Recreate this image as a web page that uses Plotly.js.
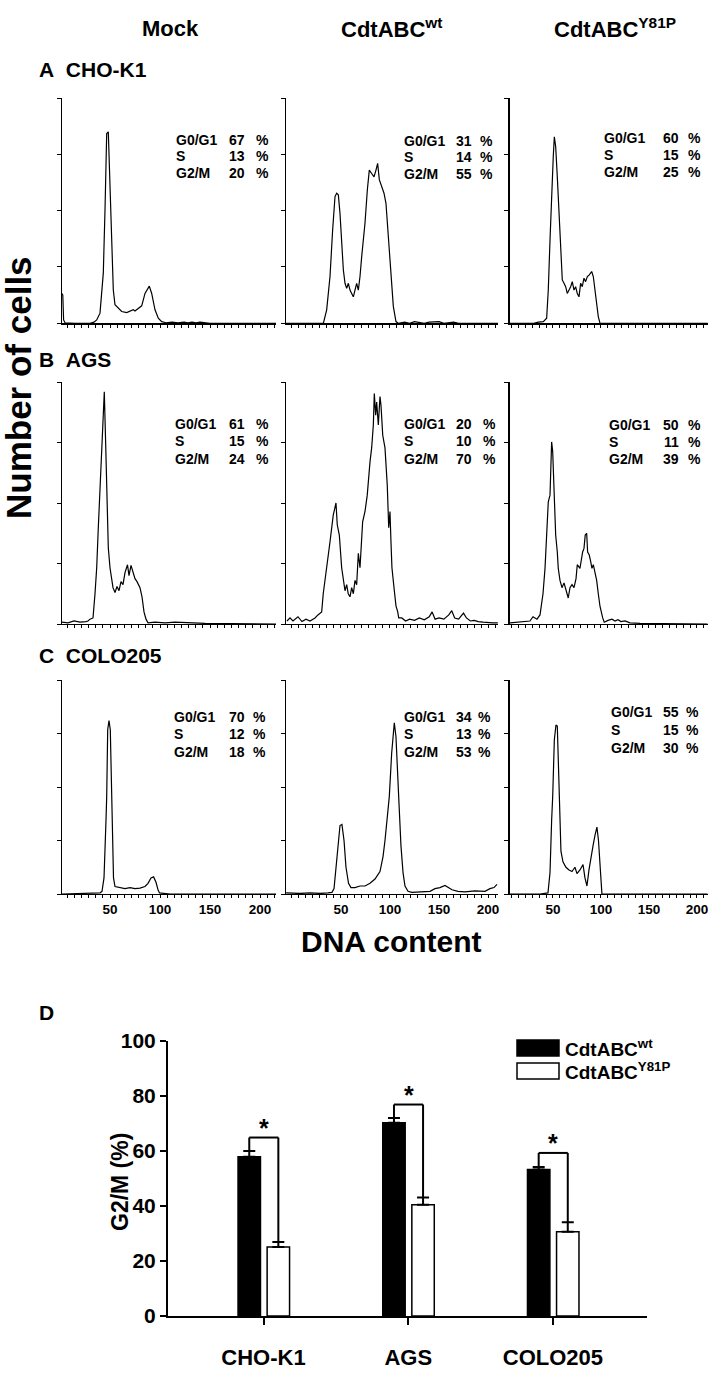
<!DOCTYPE html>
<html>
<head>
<meta charset="utf-8">
<script src="https://cdn.plot.ly/plotly-3.0.1.min.js"></script>
<style>html,body{margin:0;padding:0;background:#fff;}#chart{width:720px;height:1391px;}</style>
</head>
<body>
<div id="chart"></div>
<script>
// ---------- DATA ----------
const columnTitles = ["Mock", "CdtABC<sup>wt</sup>", "CdtABC<sup>Y81P</sup>"];
const rowTitles = ["A\u00a0\u00a0CHO-K1", "B\u00a0\u00a0AGS", "C\u00a0\u00a0COLO205"];
const phaseNames = ["G0/G1", "S", "G2/M"];
const pctG0G1 = [[67, 31, 60], [61, 20, 50], [70, 34, 55]];
const pctS    = [[13, 14, 15], [15, 10, 11], [12, 13, 15]];
const pctG2M  = [[20, 55, 25], [24, 70, 39], [18, 53, 30]];
const histTicks = [50, 100, 150, 200];

// A: CHO-K1
const a1x = [2,2.8,3.6,5,15,30,34,36.7,40,43.3,45,46.7,48.3,50,51.7,53.3,55,58.3,61.7,66.7,73.3,75,78.3,81.7,85,89.3,91.7,95,98.3,101.7,106,112,118,124,128,132,136,140,150,216];
const a1y = [0.53,0.5,0.06,0.01,0,0,0.02,0.06,0.18,0.89,2.01,3.37,3.40,2.37,1.18,0.59,0.33,0.27,0.21,0.19,0.24,0.22,0.27,0.31,0.53,0.66,0.53,0.24,0.09,0.03,0.01,0.02,0.01,0.02,0.01,0.02,0.01,0.02,0,0];
const a2x = [-6,10,25,32,35.4,38.8,41.5,43.9,45.6,47.3,49,50.7,52.4,54.1,55.8,57.5,59.2,60.9,62.6,64.3,66,67.7,69.4,71.1,74.5,76.9,78.9,81.3,83.7,85.7,87.4,89.1,91.5,93.9,95.9,98.3,100.7,103.4,106.1,108.5,115,120,125,135,140,150,155,165,170,180,210];
const a2y = [0,0,0,0,0.24,0.83,1.66,2.25,2.31,2.28,1.95,1.42,0.95,0.71,0.62,0.71,0.59,0.53,0.47,0.59,0.71,0.59,0.83,1.18,1.78,2.37,2.72,2.66,2.60,2.72,2.84,2.55,2.43,2.31,2.13,1.48,0.83,0.30,0.03,0,0.02,0,0.03,0,0.02,0.03,0,0.02,0,0,0];
const a3x = [4.7,30,34.7,39.9,43.4,45.1,46.9,48.6,50.3,51.4,52.8,54.5,56.3,58,59.7,61.5,63.2,64.9,66.7,68.4,70.1,71.9,73.6,75.3,77.1,78.8,80.5,82.3,84,85.8,87.8,90.3,92,93.8,95.5,97.2,99,211];
const a3y = [0,0,0.02,0.03,0.09,0.59,1.48,2.37,2.96,3.31,3.14,2.60,1.89,1.18,0.77,0.71,0.65,0.53,0.59,0.65,0.74,0.59,0.65,0.53,0.47,0.71,0.65,0.80,0.74,0.83,0.86,0.92,0.83,0.59,0.36,0.12,0,0];

// B: AGS
const b1x = [2,8,14,20,26,28,30,33,35,36.7,38.3,40,41.7,43.3,44.3,45.7,46.7,48.3,50,51.7,53,55,57,59,61,63,65,67.5,69,71,73,75,77,80,82,84,86,88,95,105,115,125,135,145,216];
const b1y = [0.03,0.02,0.05,0.03,0.04,0.05,0.08,0.1,0.5,0.93,1.59,2.30,2.96,3.51,3.84,2.96,2.13,1.26,0.93,0.75,0.6,0.52,0.62,0.55,0.7,0.65,0.85,0.98,0.8,0.97,0.85,0.75,0.7,0.6,0.45,0.2,0.08,0.02,0.03,0.02,0.03,0.02,0.02,0.01,0];
const b2x = [-5.1,-2,1,6.1,10.2,14.3,18.4,23.5,26.5,30.3,31.9,33.7,36,38.8,42.1,44.9,46.2,48.3,50.7,52.3,54.1,55.8,57.4,59.2,60.9,62.6,64.3,66,67.7,69.4,72.1,74.5,76.8,79.6,81.3,83,84,85.4,86.4,88.1,89.8,90.8,92.6,94.9,95.9,97.2,98.7,100,101,102,104.1,106.1,107.9,108.9,112,116,120,125,130,135,140,143,146,150,155,160,163,166,170,175,178,182,186,190,195,200,205,210];
const b2y = [0.05,0.1,0.05,0.12,0.04,0.08,0.05,0.1,0.15,0.2,0.5,0.75,1.0,1.36,1.80,2.0,1.64,1.47,0.93,0.7,0.55,0.65,0.5,0.45,0.6,0.5,0.72,0.65,1.17,0.93,1.69,1.86,2.13,2.68,2.91,3.29,3.81,3.45,3.67,3.29,3.76,3.62,3.12,2.91,2.68,2.30,1.59,1.86,1.36,0.93,0.6,0.3,0.2,0.1,0.1,0.05,0.08,0.06,0.1,0.07,0.12,0.2,0.08,0.1,0.08,0.15,0.22,0.1,0.08,0.18,0.1,0.05,0.06,0.04,0.03,0.02,0.02,0.02];
const b3x = [5.2,15.6,26,29.2,33.3,36.5,39.6,41.7,42.7,45.1,46.9,47.9,48.6,49.7,50.3,51.4,52.8,54.5,55.5,57.3,59.4,61.5,63.5,65.9,67.7,69.8,71.9,74,75.3,78.1,80.9,82.3,83.6,85.1,86.1,87.8,89.3,90.6,92,93.8,95.5,97.2,99,101.8,103.4,107.3,111.5,114.6,117.7,120.8,125,130.2,140.6,211];
const b3y = [0.02,0.03,0.05,0.12,0.08,0.15,0.5,0.92,1.25,2.02,2.13,2.57,3.01,2.85,2.57,2.02,1.47,1.19,0.92,0.72,0.6,0.68,0.55,0.43,0.6,0.65,0.6,0.75,0.98,0.92,1.19,1.25,1.47,1.50,1.19,1.14,1.03,0.92,0.98,0.87,0.72,0.5,0.29,0.1,0.03,0.06,0.08,0.05,0.07,0.04,0.05,0.02,0.01,0];

// C: COLO205
const c1x = [2,20,40,42,44,46,46.7,47.7,49,50.3,51.7,52.5,53.5,55,60,65,70,75,80,85,88,91,93.6,96,98,99.5,110,216];
const c1y = [0,0.01,0.02,0.05,0.3,1.38,1.82,3.07,3.24,3.07,2.0,1.0,0.3,0.14,0.12,0.1,0.12,0.1,0.11,0.14,0.2,0.3,0.32,0.22,0.08,0.02,0,0];
const c2x = [-6,8.2,18.4,28.6,36.7,40.8,42.9,44.9,46.9,49,51,53.1,55.1,57.7,60.2,64.3,69.4,74.5,79.6,84.7,89.8,92.9,94.9,96.6,99.3,101.7,103.4,104.4,106.1,107.4,109.5,111.2,113.3,115.3,118.4,122.4,130.6,140.8,145.9,151,156.1,159.2,163.3,169.4,176.5,186.7,196.9,202,206.1,209.2];
const c2y = [0.02,0.01,0.02,0.01,0.02,0.03,0.1,0.5,1.0,1.28,1.3,1.0,0.5,0.2,0.12,0.12,0.15,0.15,0.2,0.28,0.42,0.7,1.0,1.38,1.82,2.63,3.13,3.2,2.94,2.32,1.57,0.9,0.4,0.15,0.05,0.03,0.04,0.05,0.1,0.12,0.16,0.12,0.08,0.05,0.04,0.06,0.05,0.1,0.12,0.18];
const c3x = [4.7,20,36.5,44.8,46.9,48.6,49.7,51.4,53.1,54.5,55.5,56.8,58.3,60.4,63.5,66.7,69.8,72.9,75,78.1,81.3,83.3,85.4,87.5,89.6,91.7,93.8,95.8,97.4,99,100,101,120,211];
const c3y = [0,0,0,0.02,0.4,1.38,1.82,2.88,3.16,3.14,2.5,1.4,0.8,0.6,0.5,0.45,0.42,0.5,0.38,0.45,0.55,0.3,0.15,0.45,0.7,0.9,1.1,1.25,1.0,0.5,0.1,0,0,0];

// D: bar chart
const cellLines = ["CHO-K1", "AGS", "COLO205"];
const seriesNames = ["CdtABC<sup>wt</sup>", "CdtABC<sup>Y81P</sup>"];
const g2mWt = [57.9, 70.3, 53.3];
const g2mWtErr = [2.1, 1.7, 0.9];
const g2mY81P = [25.1, 40.5, 30.6];
const g2mY81PErr = [1.8, 2.6, 3.5];
const sigTop = [64.9, 76.9, 59.3];
const yTicksD = [0, 20, 40, 60, 80, 100];

// ---------- LAYOUT ----------
const W = 720, H = 1391;
const FONT = "Liberation Sans, Arial, Helvetica, sans-serif";
const px = v => v / W;
const py = v => 1 - v / H;
const colPx = [[62, 276], [286, 498], [509.5, 708]];
const rowPx = [[98, 323.3], [382, 624], [680, 894]];
const xRanges = [[2, 216], [-6.1, 210.2], [4.7, 211.5]];

const hx = [[a1x, a2x, a3x], [b1x, b2x, b3x], [c1x, c2x, c3x]];
const hy = [[a1y, a2y, a3y], [b1y, b2y, b3y], [c1y, c2y, c3y]];

const traces = [];
const layout = {
  width: W, height: H,
  margin: {l: 0, r: 0, t: 0, b: 0},
  paper_bgcolor: "#fff", plot_bgcolor: "rgba(0,0,0,0)",
  showlegend: false,
  font: {family: FONT, color: "#000"},
  annotations: [], shapes: []
};

let k = 0;
for (let r = 0; r < 3; r++) {
  for (let c = 0; c < 3; c++) {
    k++;
    const xa = "x" + (k === 1 ? "" : k), ya = "y" + (k === 1 ? "" : k);
    traces.push({
      x: hx[r][c], y: hy[r][c], xaxis: xa, yaxis: ya,
      type: "scatter", mode: "lines",
      line: {color: "#000", width: 1.2}, hoverinfo: "skip"
    });
    const xax = {
      domain: [px(colPx[c][0]), px(colPx[c][1])],
      anchor: ya, range: xRanges[c],
      showline: true, linecolor: "#000", linewidth: 1.2,
      ticks: "outside", ticklen: 3, tickwidth: 1, tickcolor: "#000",
      tickmode: "array", tickvals: histTicks,
      minor: {ticks: "outside", ticklen: 3, tickwidth: 1, tickcolor: "#000", tick0: 0, dtick: 50 / 7},
      showgrid: false, zeroline: false, fixedrange: true
    };
    if (r === 2) {
      xax.showticklabels = true;
      xax.tickfont = {family: FONT, size: 13.5, weight: "bold", color: "#000"};
    } else {
      xax.showticklabels = false;
    }
    layout["xaxis" + (k === 1 ? "" : k)] = xax;
    layout["yaxis" + (k === 1 ? "" : k)] = {
      domain: [py(rowPx[r][1]), py(rowPx[r][0])],
      anchor: xa, range: [0, 4],
      showline: true, linecolor: "#000", linewidth: 1.2,
      ticks: "outside", ticklen: 4, tickwidth: 1, tickcolor: "#000",
      dtick: 1, showticklabels: false,
      showgrid: false, zeroline: false, fixedrange: true
    };
  }
}

// per-panel phase text positions (pixels)
const labelX = [[175, 403, 603], [174, 403, 608], [173, 403, 610]];
const valueR = [[246, 473, 680], [246, 473, 680], [246, 473, 680]];
const pctX   = [[255, 479, 687], [255, 482, 687], [252, 477, 685]];
const lineY  = [[139.5, 140.5, 138.5], [423.5, 423.5, 424.5], [716.5, 716.5, 712.5]];
const lineGap = [16.7, 17.5, 17.5];
for (let r = 0; r < 3; r++) {
  for (let c = 0; c < 3; c++) {
    const vals = [pctG0G1[r][c], pctS[r][c], pctG2M[r][c]];
    for (let i = 0; i < 3; i++) {
      const yy = py(lineY[r][c] + i * lineGap[r]);
      const f = {family: FONT, size: 14, color: "#000"};
      layout.annotations.push({xref: "paper", yref: "paper", x: px(labelX[r][c]), y: yy, xanchor: "left", yanchor: "middle", text: "<b>" + phaseNames[i] + "</b>", showarrow: false, font: f, borderpad: 0});
      layout.annotations.push({xref: "paper", yref: "paper", x: px(valueR[r][c]), y: yy, xanchor: "right", yanchor: "middle", text: "<b>" + vals[i] + "</b>", showarrow: false, font: f, borderpad: 0});
      layout.annotations.push({xref: "paper", yref: "paper", x: px(pctX[r][c]), y: yy, xanchor: "left", yanchor: "middle", text: "<b>%</b>", showarrow: false, font: f, borderpad: 0});
    }
  }
}

// column and row titles
const colCenters = [170, 392, 615];
columnTitles.forEach((t, i) => layout.annotations.push({xref: "paper", yref: "paper", x: px(colCenters[i]), y: py(28), xanchor: "center", yanchor: "middle", text: "<b>" + t + "</b>", showarrow: false, font: {family: FONT, size: 22, color: "#000"}}));
const rowTitleY = [70, 359, 656];
rowTitles.forEach((t, i) => layout.annotations.push({xref: "paper", yref: "paper", x: px(37), y: py(rowTitleY[i]), xanchor: "left", yanchor: "middle", text: "<b>" + t + "</b>", showarrow: false, font: {family: FONT, size: 21, color: "#000"}}));
layout.annotations.push({xref: "paper", yref: "paper", x: px(18), y: py(388), xanchor: "center", yanchor: "middle", textangle: -90, text: "<b>Number of cells</b>", showarrow: false, font: {family: FONT, size: 35, color: "#000"}});
layout.annotations.push({xref: "paper", yref: "paper", x: px(392), y: py(942), xanchor: "center", yanchor: "middle", text: "<b>DNA content</b>", showarrow: false, font: {family: FONT, size: 30, color: "#000"}});
layout.annotations.push({xref: "paper", yref: "paper", x: px(37), y: py(1013), xanchor: "left", yanchor: "middle", text: "<b>D</b>", showarrow: false, font: {family: FONT, size: 21, color: "#000"}});
layout.annotations.push({xref: "paper", yref: "paper", x: px(120), y: py(1182), xanchor: "center", yanchor: "middle", textangle: -90, text: "<b>G2/M (%)</b>", showarrow: false, font: {family: FONT, size: 23, color: "#000"}});

// ---------- D: bar chart ----------
const catIdx = cellLines.map((_, i) => i);
const barW = 0.155, offWt = -0.176, offY = 0.025;
traces.push({
  type: "bar", x: catIdx, y: g2mWt, xaxis: "x10", yaxis: "y10",
  width: barW, offset: offWt,
  marker: {color: "#000", line: {color: "#000", width: 1.5}},
  error_y: {type: "data", symmetric: false, array: g2mWtErr, arrayminus: g2mWtErr.map(() => 0), color: "#000", thickness: 2, width: 6},
  hoverinfo: "skip", name: seriesNames[0]
});
traces.push({
  type: "bar", x: catIdx, y: g2mY81P, xaxis: "x10", yaxis: "y10",
  width: barW, offset: offY,
  marker: {color: "#fff", line: {color: "#000", width: 1.5}},
  error_y: {type: "data", symmetric: false, array: g2mY81PErr, arrayminus: g2mY81PErr.map(() => 0), color: "#000", thickness: 2, width: 6},
  hoverinfo: "skip", name: seriesNames[1]
});
layout.xaxis10 = {
  domain: [px(168), px(647)], anchor: "y10", range: [-0.66, 2.65],
  tickmode: "array", tickvals: catIdx, ticktext: cellLines,
  showline: true, linecolor: "#000", linewidth: 2,
  ticks: "outside", ticklen: 7, tickwidth: 2, tickcolor: "#000",
  ticklabelstandoff: 14,
  tickfont: {family: FONT, size: 22, weight: "bold", color: "#000"},
  showgrid: false, zeroline: false, fixedrange: true
};
layout.yaxis10 = {
  domain: [py(1316), py(1041)], anchor: "x10", range: [0, 100],
  tickmode: "array", tickvals: yTicksD,
  showline: true, linecolor: "#000", linewidth: 2,
  ticks: "outside", ticklen: 6, tickwidth: 2, tickcolor: "#000",
  tickfont: {family: FONT, size: 21, weight: "bold", color: "#000"},
  showgrid: false, zeroline: false, fixedrange: true
};

// significance brackets
const blackC = offWt + barW / 2, whiteC = offY + barW / 2;
catIdx.forEach(i => {
  const L = i + blackC, R = i + whiteC;
  const ln = {color: "#000", width: 2};
  layout.shapes.push({type: "line", xref: "x10", yref: "y10", x0: L, x1: L, y0: g2mWt[i] + g2mWtErr[i], y1: sigTop[i], line: ln});
  layout.shapes.push({type: "line", xref: "x10", yref: "y10", x0: L, x1: R, y0: sigTop[i], y1: sigTop[i], line: ln});
  layout.shapes.push({type: "line", xref: "x10", yref: "y10", x0: R, x1: R, y0: sigTop[i], y1: g2mY81P[i] + g2mY81PErr[i], line: ln});
  layout.annotations.push({xref: "x10", yref: "y10", x: (L + R) / 2, y: sigTop[i], yanchor: "bottom", xanchor: "center", yshift: -6, text: "<b>*</b>", showarrow: false, font: {family: FONT, size: 25, color: "#000"}});
});

// legend (manual)
const legY = [1048, 1071];
const legFill = ["#000", "#fff"];
seriesNames.forEach((n, i) => {
  layout.shapes.push({type: "rect", xref: "paper", yref: "paper", x0: px(517), x1: px(559), y0: py(legY[i] + 8), y1: py(legY[i] - 8), fillcolor: legFill[i], line: {color: "#000", width: 1.5}});
  layout.annotations.push({xref: "paper", yref: "paper", x: px(563), y: py(legY[i]), xanchor: "left", yanchor: "middle", text: "<b>" + n + "</b>", showarrow: false, font: {family: FONT, size: 19, color: "#000"}});
});

Plotly.newPlot("chart", traces, layout, {staticPlot: true, displayModeBar: false});
</script>
</body>
</html>
